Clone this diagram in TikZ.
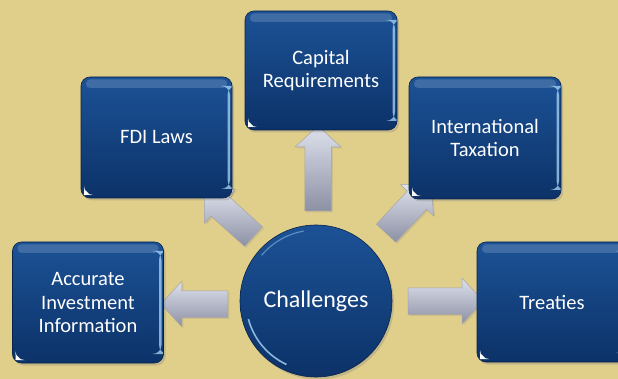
\documentclass[tikz,border=0pt]{standalone}
\usepackage{fontspec}
\setmainfont{Carlito}
\usetikzlibrary{shapes.arrows,shadows}
\definecolor{bg}{RGB}{224,206,139}
\definecolor{btop}{RGB}{28,82,150}
\definecolor{bbot}{RGB}{12,50,104}
\definecolor{atop}{RGB}{222,225,236}
\definecolor{amid}{RGB}{176,180,198}
\definecolor{abot}{RGB}{140,144,164}
\definecolor{glint}{RGB}{170,215,250}
\begin{document}
\begin{tikzpicture}[x=1pt,y=-1pt,
  bluebox/.style={draw=bbot!70!black, line width=0.6pt, rounded corners=9pt,
    top color=btop, bottom color=bbot, text=white, align=center,
    font=\fontsize{20.5}{23.5}\selectfont, inner sep=0pt,
    drop shadow={opacity=0.3, shadow xshift=2pt, shadow yshift=-2.5pt},
    path picture={
      \fill[white, opacity=0.16, rounded corners=4pt]
        ([xshift=5pt,yshift=-2.5pt]path picture bounding box.north west) rectangle
        ([xshift=-5pt,yshift=-11pt]path picture bounding box.north east);
      \fill[glint, opacity=0.75]
        ([xshift=-4.5pt,yshift=-9pt]path picture bounding box.north east) rectangle
        ([xshift=-2pt,yshift=9pt]path picture bounding box.south east);
      \fill[white]
        ([xshift=3pt,yshift=3pt]path picture bounding box.south west) -- ++(0pt,6pt) -- ++(6pt,-6pt) -- cycle;
    }},
  blockarrow/.style={single arrow, draw=gray!70, line width=0.5pt,
    top color=atop, middle color=amid, bottom color=abot,
    inner xsep=0pt, inner ysep=13pt,
    single arrow head extend=9.5pt, single arrow tip angle=95,
    drop shadow={opacity=0.2, shadow xshift=1.5pt, shadow yshift=-1.5pt}}
]
\clip (0,0) rectangle (618,379);
\fill[bg] (0,0) rectangle (618,379);
\useasboundingbox (0,0) rectangle (618,379);

% block arrows
\node[blockarrow, minimum height=67pt, rotate=180] (a1) at (200.5,304) {};
\node[blockarrow, minimum height=85pt, rotate=90] (a2) at (318,174.5) {};
\node[blockarrow, minimum height=75pt, rotate=0] (a3) at (439.5,301) {};
\node[blockarrow, minimum height=66pt, rotate=138] (a4) at (233.5,218.5) {};
\node[blockarrow, minimum height=66pt, rotate=47] (a5) at (404.5,213.5) {};

% boxes
\node[bluebox, minimum width=151pt, minimum height=121pt] (acc) at (88,302.5) {Accurate\\Investment\\Information};
\node[bluebox, minimum width=152pt, minimum height=119pt] (cap) at (321,70.5) {Capital\\Requirements};
\node[bluebox, minimum width=152pt, minimum height=122pt] (intl) at (485,138) {International\\Taxation};
\node[bluebox, minimum width=151pt, minimum height=121pt] (fdi) at (156.5,137.5) {FDI Laws};
\node[bluebox, minimum width=150pt, minimum height=120pt] (tre) at (552,302) {Treaties};

% center circle
\node[circle, draw=bbot!70!black, line width=0.6pt, minimum size=152pt, inner sep=0pt,
  top color=btop, bottom color=bbot, text=white, font=\fontsize{24}{28}\selectfont,
  drop shadow={opacity=0.3, shadow xshift=2pt, shadow yshift=-2.5pt},
  path picture={
    \draw[glint, opacity=0.8, line width=1.6pt]
      ([shift={(195:70pt)}]path picture bounding box.center) arc[start angle=195, end angle=245, radius=70pt];
    \draw[glint, opacity=0.45, line width=1.2pt]
      ([shift={(100:71pt)}]path picture bounding box.center) arc[start angle=100, end angle=140, radius=71pt];
  }] (ch) at (316,301) {Challenges};
\end{tikzpicture}
\end{document}
